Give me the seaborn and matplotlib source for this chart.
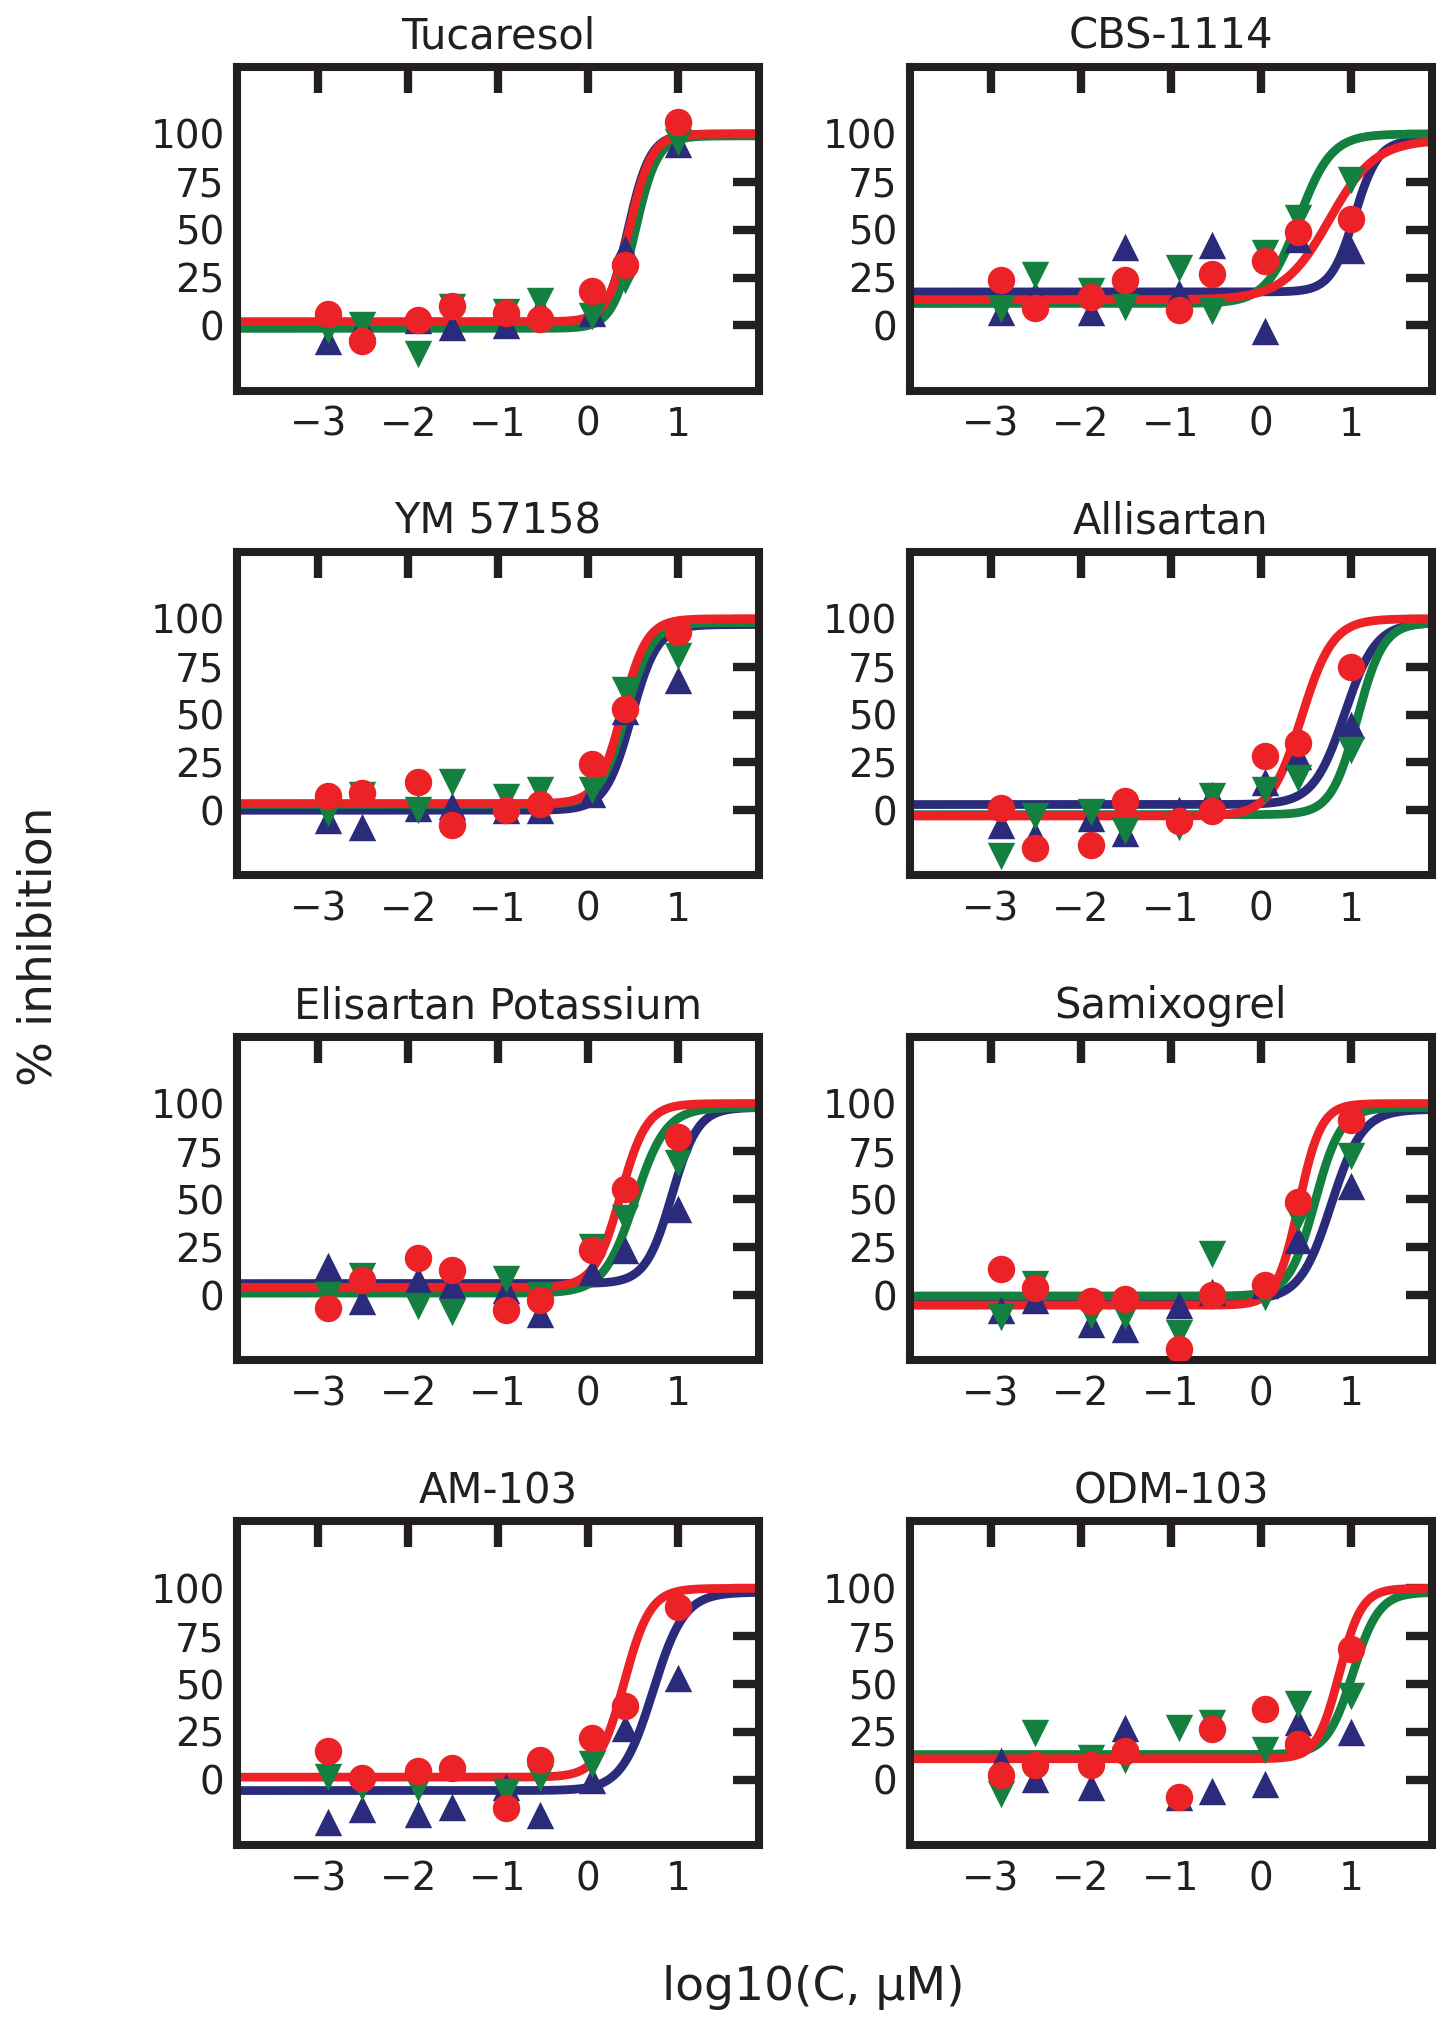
import numpy as np
import pandas as pd
import matplotlib
matplotlib.use("Agg")
import matplotlib.pyplot as plt
import seaborn as sns

# ---------------- data ----------------
compounds = ["Tucaresol", "CBS-1114", "YM 57158", "Allisartan",
             "Elisartan Potassium", "Samixogrel", "AM-103", "ODM-103"]

log_conc = [-2.89, -2.51, -1.89, -1.51, -0.91, -0.54, 0.04, 0.41, 1.0]

nan = np.nan
inh_navy = [
    [-8, 0, 3, -1, 0.5, 9, 6.6, 40, 95],
    [7, 16, 7, 41, 17, 42, -3, 45, 39.6],
    [-5.3, -8.5, 1, 2, 0, 0.4, 8.3, 52, 68],
    [-7.6, -13, -4, -12, 0, 8, 15, 28.6, 44.5],
    [15.4, -3, 8, 5, 2.6, -10, 12, 23.7, 45],
    [-8, -2.6, -15, -17.5, -5, 1.8, 5, 29, 56.7],
    [-22, -15, -17.6, -14, -3.5, -18.5, 0, 27, 53],
    [10, 0.5, -3.5, 27, -9, -5.6, -2, 30, 25],
]
inh_green = [
    [-2.6, 0, -15, 9.6, 7, 12.7, 5, 23.6, 96],
    [8.8, 26.5, 18, 9.8, 30, 7.5, 38, 56, 76],
    [-1.4, 8, 0, 15, 7, 10.6, 10.6, 62.6, 80.6],
    [-24, -3, -1, -10.6, -8.5, 7.4, 10.6, 16.8, 31.7],
    [0, 10, -5.6, -9, 8.4, 0, 25, 40, 69],
    [-11.7, 6, -10.5, -11, -19.6, 21.6, -1, 40, 72.5],
    [1.4, -3.5, -4.4, nan, -6.5, 1, 8.5, nan, nan],
    [-7.4, 24.6, 11.4, 10.5, 27, 29.6, 15.8, 39.6, 44],
]
inh_red = [
    [6, -8, 3, 10, 6.6, 3.5, 18, 31.5, 106],
    [24, 9, 15, 23.7, 8, 27, 33.5, 49, 55.5],
    [7.4, 9, 14.8, -7.6, 0.4, 3.4, 24, 53, 93],
    [1.2, -19.6, -18, 4.8, -5.5, -0.5, 28.6, 35, 75],
    [-7, 8, 19.3, 13, -8, -2.6, 23.7, 55.6, 82.5],
    [13.7, 3.8, -3, -2.3, -28, 0, 5.3, 48.8, 91.6],
    [15, 1, 4.4, 6, -14.6, 10.6, 22, 38.7, 90],
    [2.6, 8, 8, 15, -8.8, 26.8, 37, 18.5, 68.3],
]

# fitted 4-parameter logistic curves: (bottom, top, logEC50, hill); None = no fit drawn
fit_navy = [(-1, 100, 0.44, 3.5), (17.5, 97, 1.04, 3.3), (0, 97, 0.48, 3.0),
            (3, 98, 0.93, 2.5), (6, 98, 0.93, 3.0), (-2.6, 97, 0.78, 2.5),
            (-5.6, 98, 0.72, 2.5), None]
fit_green = [(-1.5, 99, 0.52, 3.5), (11.5, 100, 0.42, 2.4), (3, 98, 0.42, 3.0),
             (-2.3, 98, 1.07, 3.0), (1, 98, 0.52, 2.5), (-0.5, 98, 0.60, 3.0),
             None, (13.2, 98, 1.02, 3.0)]
fit_red = [(2, 100, 0.46, 3.5), (13.5, 97, 0.76, 1.7), (3.5, 100, 0.38, 3.2),
           (-3, 100, 0.45, 2.5), (4, 100, 0.36, 3.0), (-5.3, 100, 0.42, 3.5),
           (1.4, 100, 0.40, 3.0), (11, 100, 0.87, 3.5)]

series = ["navy", "green", "red"]
colors = {"navy": "#2a2b7a", "green": "#138040", "red": "#ec2227"}
markers = {"navy": "^", "green": "v", "red": "o"}

x_ticks = [-3, -2, -1, 0, 1]
y_ticks = [0, 25, 50, 75, 100]
xlim = (-3.9, 1.9)
ylim = (-34, 135)

# ---------------- style ----------------
sns.set_theme(style="white")
ink = "#231f20"
plt.rcParams["font.family"] = ["DejaVu Sans"]
plt.rcParams["text.color"] = ink
plt.rcParams["axes.labelcolor"] = ink
plt.rcParams["xtick.color"] = ink
plt.rcParams["ytick.color"] = ink

fig, axes = plt.subplots(4, 2, figsize=(14.37, 20.17), dpi=100)
fig.subplots_adjust(left=0.165, right=0.9965, top=0.9668, bottom=0.0853,
                    wspace=0.289, hspace=0.498)

xgrid = np.linspace(xlim[0], xlim[1], 400)

def logistic(x, p):
    b, t, ec, h = p
    return b + (t - b) / (1.0 + 10 ** ((ec - x) * h))

for i, ax in enumerate(axes.flat):
    pts = []
    for s, vals in zip(series, [inh_navy[i], inh_green[i], inh_red[i]]):
        for x, v in zip(log_conc, vals):
            pts.append({"logc": x, "inh": v, "series": s})
    pts = pd.DataFrame(pts).dropna()

    crv = []
    for s, fits in zip(series, [fit_navy, fit_green, fit_red]):
        p = fits[i]
        if p is None:
            continue
        for x, y in zip(xgrid, logistic(xgrid, p)):
            crv.append({"logc": x, "inh": y, "series": s})
    crv = pd.DataFrame(crv)

    sns.lineplot(data=crv, x="logc", y="inh", hue="series", palette=colors,
                 hue_order=[s for s in series if s in crv["series"].unique()],
                 linewidth=6.3, legend=False, estimator=None, sort=True, ax=ax)
    for s in series:
        sub = pts[pts["series"] == s]
        sns.scatterplot(data=sub, x="logc", y="inh", color=colors[s],
                        marker=markers[s], s=390, linewidth=0, legend=False,
                        ax=ax, zorder=3)

    ax.set_xlim(*xlim)
    ax.set_ylim(*ylim)
    ax.set_xticks(x_ticks)
    ax.set_yticks(y_ticks)
    ax.set_xlabel("")
    ax.set_ylabel("")
    ax.set_title(compounds[i], fontsize=30, pad=13, color=ink)
    ax.tick_params(direction="in", length=19, width=6, top=True, right=True,
                   labelsize=28, color=ink)
    ax.tick_params(axis="x", pad=11)
    ax.tick_params(axis="y", pad=9)
    for sp in ax.spines.values():
        sp.set_linewidth(5.8)
        sp.set_color(ink)
        sp.set_visible(True)

fig.text(0.566, 0.0144, "log10(C, µM)", ha="center", va="center", fontsize=34)
fig.text(0.027, 0.531, "% inhibition", ha="center", va="center",
         rotation=90, fontsize=34)

fig.savefig("out.png", dpi=100)
